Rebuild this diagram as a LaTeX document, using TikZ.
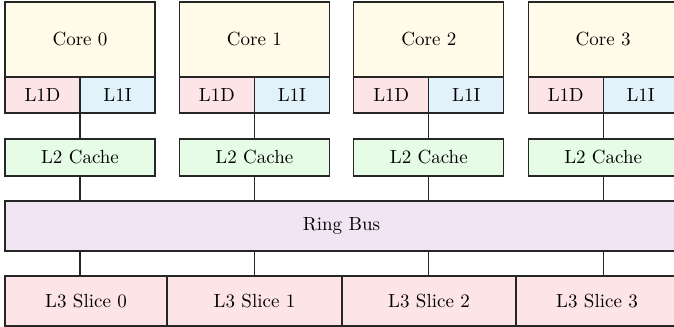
\documentclass[tikz,border=0pt]{standalone}
\usetikzlibrary{calc}
\definecolor{corefill}{RGB}{255,251,232}
\definecolor{ldfill}{RGB}{253,228,230}
\definecolor{lifill}{RGB}{225,242,251}
\definecolor{ltwofill}{RGB}{230,252,230}
\definecolor{ringfill}{RGB}{241,228,243}
\definecolor{lthreefill}{RGB}{253,228,230}
\def\u{0.5263pt}
\tikzset{
  unitbox/.style={draw=black!85, line width=0.6pt, inner sep=0pt, outer sep=0pt, rectangle, font=\normalsize},
  corebox/.style={unitbox, fill=corefill, minimum width=150*\u, minimum height=75*\u},
  ldbox/.style={unitbox, fill=ldfill, minimum width=75*\u, minimum height=36*\u},
  libox/.style={unitbox, fill=lifill, minimum width=75*\u, minimum height=36*\u},
  ltwobox/.style={unitbox, fill=ltwofill, minimum width=150*\u, minimum height=37*\u},
  ringbox/.style={unitbox, fill=ringfill, minimum width=673*\u, minimum height=50*\u},
  slicebox/.style={unitbox, fill=lthreefill, minimum height=50*\u},
  wire/.style={draw=black!85, line width=0.6pt}
}
\begin{document}
\begin{tikzpicture}[x=\u, y=-\u]
  \useasboundingbox (0,0) rectangle (674,327);
  \clip (0,0) rectangle (674,327);
  % shared ring interconnect
  \node[ringbox] (ring) at (341.5,226) {Ring Bus};
  % last-level cache slices
  \node[slicebox, minimum width=162*\u] (l3s0) at (86,301) {L3 Slice 0};
  \node[slicebox, minimum width=175*\u] (l3s1) at (254.5,301) {L3 Slice 1};
  \node[slicebox, minimum width=174*\u] (l3s2) at (429,301) {L3 Slice 2};
  \node[slicebox, minimum width=162*\u] (l3s3) at (597,301) {L3 Slice 3};
  % cores with private caches
  \foreach \i in {0,...,3} {
    \pgfmathsetmacro\xl{5+174.4*\i}
    \node[corebox] (core\i) at (\xl+75,39.5) {Core \i};
    \node[ldbox] (l1d\i) at (\xl+37.5,95) {L1D};
    \node[libox] (l1i\i) at (\xl+112.5,95) {L1I};
    \node[ltwobox] (l2c\i) at (\xl+75,157.5) {L2 Cache};
    \draw[wire] (l1d\i.south east) -- (l2c\i.north);
    \draw[wire] (l2c\i.south) -- (l2c\i.south |- ring.north);
    \draw[wire] (l2c\i.south |- ring.south) -- (l2c\i.south |- l3s0.north);
  }
\end{tikzpicture}
\end{document}
